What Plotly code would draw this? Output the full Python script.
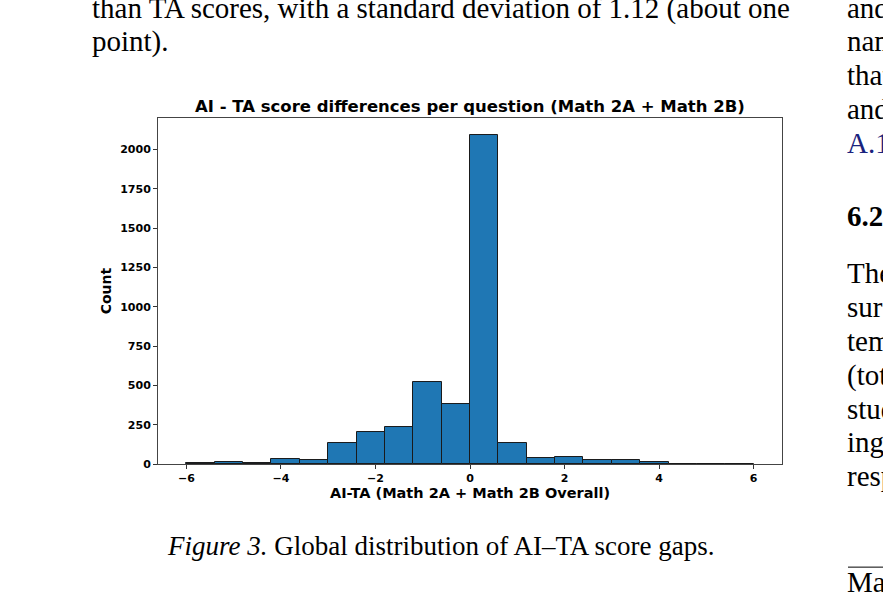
import plotly.graph_objects as go

# histogram of AI - TA differences (bins of 0.6 from -6 to 6)
bin_edges = [-6.0, -5.4, -4.8, -4.2, -3.6, -3.0, -2.4, -1.8, -1.2, -0.6, 0.0,
             0.6, 1.2, 1.8, 2.4, 3.0, 3.6, 4.2, 4.8, 5.4, 6.0]
counts = [8, 11, 5, 32, 25, 134, 204, 238, 522, 380,
          2095, 136, 36, 45, 25, 27, 12, 0, 3, 1]
x_ticks = [-6, -4, -2, 0, 2, 4, 6]
y_ticks = [0, 250, 500, 750, 1000, 1250, 1500, 1750, 2000]

centers = [(a + b) / 2 for a, b in zip(bin_edges[:-1], bin_edges[1:])]
widths = [b - a for a, b in zip(bin_edges[:-1], bin_edges[1:])]

W, H = 883, 602
SANS = "DejaVu Sans"
SERIF = "Liberation Serif"


def py(y):
    # pixel row (from top) -> paper fraction, with a small stretch
    # to make up for the slight vertical squeeze seen in the render
    return 1 - (y * 1.012) / H


fig = go.Figure(
    go.Bar(
        x=centers,
        y=counts,
        width=widths,
        marker=dict(color="#1f77b4", line=dict(color="#1a1a1a", width=1)),
        showlegend=False,
    )
)

axis_common = dict(
    showgrid=False,
    zeroline=False,
    showline=True,
    linecolor="#444",
    linewidth=1,
    mirror=True,
    ticks="outside",
    ticklen=4,
    tickcolor="#333",
    tickfont=dict(family=SANS, size=11, color="black", weight="bold"),
)

fig.update_xaxes(
    **axis_common,
    domain=[158 / W, 782 / W],
    range=[-6.6, 6.6],
    tickvals=x_ticks,
    ticktext=["\u2212" + str(-t) if t < 0 else str(t) for t in x_ticks],
    title=dict(text="AI-TA (Math 2A + Math 2B Overall)",
               font=dict(family=SANS, size=14.5, color="black", weight="bold"),
               standoff=2),
)
fig.update_yaxes(
    **axis_common,
    domain=[py(464), py(118)],
    range=[0, 2200],
    tickvals=y_ticks,
    title=dict(text="Count",
               font=dict(family=SANS, size=14, color="black", weight="bold"),
               standoff=5),
)

# surrounding paper text
page_text = [
    # (text, x px, y px, size, family, color)
    ("than TA scores, with a standard deviation of 1.12 (about one", 90, 8, 29, SERIF, "black"),
    ("point).", 90, 41, 29, SERIF, "black"),
    ("<i>Figure 3.</i> Global distribution of AI\u2013TA score gaps.", 165, 546, 27, SERIF, "black"),
    ("and", 845, 8, 29, SERIF, "black"),
    ("nam", 845, 41, 29, SERIF, "black"),
    ("that", 845, 75, 29, SERIF, "black"),
    ("and", 845, 109, 29, SERIF, "black"),
    ("A.1", 845, 143, 29, SERIF, "#1a237e"),
    ("<b>6.2</b>", 845, 216, 29, SERIF, "black"),
    ("The", 845, 273, 29, SERIF, "black"),
    ("sur", 845, 307, 29, SERIF, "black"),
    ("tem", 845, 341, 29, SERIF, "black"),
    ("(tot", 845, 375, 29, SERIF, "black"),
    ("stud", 845, 409, 29, SERIF, "black"),
    ("ing", 845, 442, 29, SERIF, "black"),
    ("resp", 845, 476, 29, SERIF, "black"),
    ("Ma", 845, 582, 29, SERIF, "black"),
]
annotations = [
    dict(text=t, x=x / W, y=py(y), xref="paper", yref="paper",
         xanchor="left", yanchor="middle", showarrow=False,
         font=dict(family=f, size=s, color=c))
    for t, x, y, s, f, c in page_text
]
annotations.append(
    dict(text="AI - TA score differences per question (Math 2A + Math 2B)",
         x=470 / W, y=py(106), xref="paper", yref="paper",
         xanchor="center", yanchor="middle", showarrow=False,
         font=dict(family=SANS, size=16.5, color="black", weight="bold"))
)

fig.update_layout(
    width=W,
    height=H,
    margin=dict(l=0, r=0, t=0, b=0),
    paper_bgcolor="white",
    plot_bgcolor="white",
    bargap=0,
    annotations=annotations,
    shapes=[dict(type="line", xref="paper", yref="paper",
                 x0=848 / W, x1=1, y0=py(567), y1=py(567),
                 line=dict(color="black", width=1))],
)

# drop the default page margin so the figure sits at the window corner
fig.write_html(
    "out.html",
    config={"displayModeBar": False},
    post_script="document.body.style.margin='0';",
)
